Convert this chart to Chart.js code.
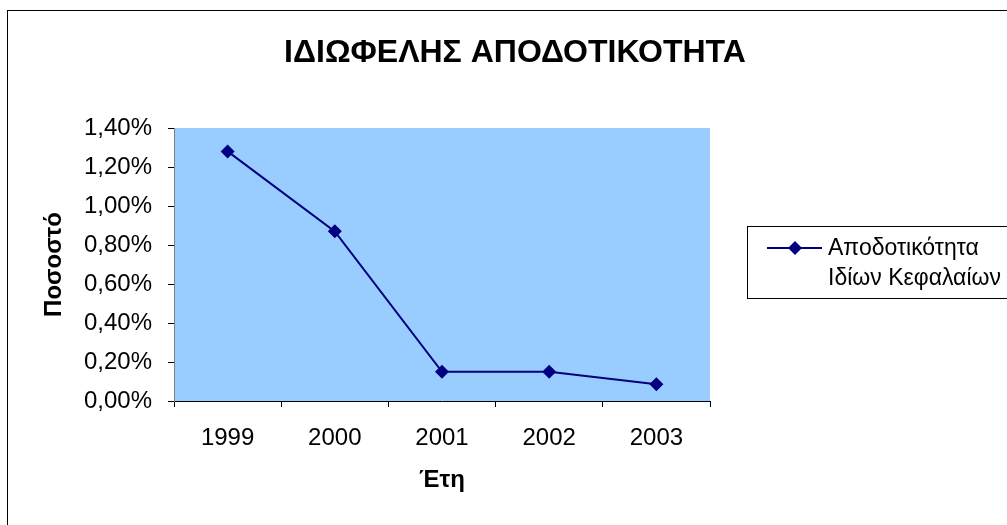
<!DOCTYPE html>
<html>
<head>
<meta charset="utf-8">
<script src="https://cdn.jsdelivr.net/npm/chart.js@4.4.0/dist/chart.umd.min.js"></script>
<style>
  html, body { margin: 0; padding: 0; background: #fff; }
  #wrap { width: 1007px; height: 525px; }
</style>
</head>
<body>
<div id="wrap"><canvas id="c" width="1007" height="525"></canvas></div>
<script>
// Return on equity by year (percent)
const years = ['1999', '2000', '2001', '2002', '2003'];
const roe = [1.28, 0.87, 0.15, 0.15, 0.086];
const seriesLines = ['Αποδοτικότητα', 'Ιδίων Κεφαλαίων'];
const chartTitle = 'ΙΔΙΩΦΕΛΗΣ ΑΠΟΔΟΤΙΚΟΤΗΤΑ';
const xTitle = 'Έτη';
const yTitle = 'Ποσοστό';
const yMin = 0, yMax = 1.4, yStep = 0.2;

const FONT = '"Liberation Sans", Arial, sans-serif';
const NAVY = '#000080';

const frame = {
  id: 'frame',
  beforeDraw(chart) {
    const ctx = chart.ctx;
    const a = chart.chartArea;
    ctx.save();
    ctx.fillStyle = '#fff';
    ctx.fillRect(0, 0, chart.width, chart.height);
    ctx.strokeStyle = '#000';
    ctx.lineWidth = 1;
    ctx.strokeRect(7.5, 10.5, chart.width + 20, chart.height + 20);
    ctx.fillStyle = '#99CCFF';
    ctx.fillRect(a.left, a.top, a.right - a.left, a.bottom - a.top);
    ctx.restore();
  },
  afterDraw(chart) {
    const ctx = chart.ctx;
    ctx.save();
    // heading
    ctx.fillStyle = '#000';
    ctx.font = 'bold 32px ' + FONT;
    ctx.textAlign = 'center';
    ctx.textBaseline = 'alphabetic';
    ctx.fillText(chartTitle, 515, 62);
    // legend box
    ctx.strokeStyle = '#000';
    ctx.lineWidth = 1;
    ctx.strokeRect(747.5, 226.5, 300, 72);
    const ds = chart.data.datasets[0];
    const ly = 248;
    ctx.strokeStyle = ds.borderColor;
    ctx.lineWidth = 2;
    ctx.beginPath();
    ctx.moveTo(767, ly);
    ctx.lineTo(822, ly);
    ctx.stroke();
    ctx.fillStyle = ds.backgroundColor;
    ctx.beginPath();
    ctx.moveTo(795, ly - 7);
    ctx.lineTo(802, ly);
    ctx.lineTo(795, ly + 7);
    ctx.lineTo(788, ly);
    ctx.closePath();
    ctx.fill();
    ctx.fillStyle = '#000';
    ctx.font = '23px ' + FONT;
    ctx.textAlign = 'left';
    ctx.textBaseline = 'middle';
    seriesLines.forEach((t, i) => ctx.fillText(t, 828, ly + 1 + i * 30));
    ctx.restore();
  }
};

new Chart(document.getElementById('c'), {
  type: 'line',
  data: {
    labels: years,
    datasets: [{
      label: seriesLines.join(' '),
      data: roe,
      borderColor: NAVY,
      backgroundColor: NAVY,
      borderWidth: 2,
      pointStyle: 'rectRot',
      pointRadius: 7,
      pointBorderWidth: 0,
      pointBackgroundColor: NAVY,
      tension: 0
    }]
  },
  options: {
    responsive: false,
    animation: false,
    devicePixelRatio: 1,
    layout: { padding: { top: 128, right: 297, left: 0, bottom: 0 } },
    plugins: { legend: { display: false }, title: { display: false }, tooltip: { enabled: false } },
    scales: {
      x: {
        type: 'category',
        offset: true,
        afterFit(s) { s.height = 124; },
        grid: { offset: true, drawOnChartArea: false, drawTicks: true, tickLength: 6, color: '#000', tickColor: '#000' },
        border: { color: '#000', width: 1 },
        ticks: { color: '#000', font: { family: FONT, size: 24 }, padding: 17, maxRotation: 0 },
        title: { display: true, text: xTitle, color: '#000', font: { family: FONT, size: 24, weight: 'bold' }, padding: { top: 0, bottom: 30 } }
      },
      y: {
        min: yMin,
        max: yMax,
        afterFit(s) { s.width = 174; },
        grid: { drawOnChartArea: false, drawTicks: true, tickLength: 6, color: '#000', tickColor: '#000' },
        border: { color: '#808080', width: 1 },
        ticks: {
          stepSize: yStep,
          color: '#000',
          padding: 16,
          font: { family: FONT, size: 24 },
          callback: v => v.toFixed(2).replace('.', ',') + '%'
        },
        title: { display: true, text: yTitle, color: '#000', font: { family: FONT, size: 24, weight: 'bold' }, padding: { top: 40, bottom: 0 } }
      }
    }
  },
  plugins: [frame]
});
</script>
</body>
</html>
